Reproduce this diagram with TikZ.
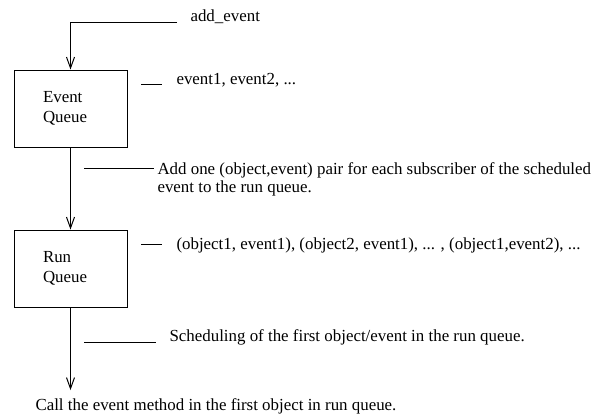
\documentclass[tikz,border=0pt]{standalone}
\usepackage{fontspec}
\setmainfont{Liberation Serif}
\usetikzlibrary{arrows.meta}

\begin{document}
\begin{tikzpicture}[x=1pt,y=-1pt,line width=1pt,
    >={Straight Barb[length=11pt,width=8pt]},
    font=\fontsize{16.9}{18}\selectfont,
    queuebox/.style={draw,minimum width=113pt,minimum height=77pt,inner xsep=0pt,
      text width=55pt,align=left,font=\fontsize{16.9}{20.5}\selectfont},
    note/.style={anchor=west,inner sep=0pt,align=left}]
  \useasboundingbox (0,0) rectangle (605,415);

  % the two queues
  \node [queuebox] (EventQueue) at (70.5,108.5) {Event\\Queue};
  \node [queuebox] (RunQueue) at (70.5,268.5) {Run\\Queue};

  % texts
  \node [note] (AddEvent) at (190,17) {add\_event};
  \node [note] (EventList) at (176,80) {event1, event2, ...};
  \node [note] (AddNote) at (157,179) {Add one (object,event) pair for each subscriber of the scheduled\\event to the run queue.};
  \node [note] (RunList) at (176,245) {(object1, event1), (object2, event1), ... , (object1,event2), ...};
  \node [note] (SchedNote) at (169,337) {Scheduling of the first object/event in the run queue.};
  \node [note] (CallNote) at (35,406) {Call the event method in the first object in run queue.};

  \coordinate (AddStart) at (177,22);
  \coordinate (AddCorner) at (EventQueue.north |- AddStart);
  \coordinate (CallTip) at (70.5,390);

  % flow
  \draw [->, solid] (AddStart) -- (AddCorner) -- (EventQueue.north);
  \draw [->, solid] (EventQueue.south) -- (RunQueue.north);
  \draw [->, solid] (RunQueue.south) -- (CallTip);

  % pointer lines
  \draw [-, solid] (141,84) -- (162,84);
  \draw [-, solid] (84,168) -- (154,168);
  \draw [-, solid] (141,244) -- (162,244);
  \draw [-, solid] (84,342) -- (156,342);

\end{tikzpicture}
\end{document}
